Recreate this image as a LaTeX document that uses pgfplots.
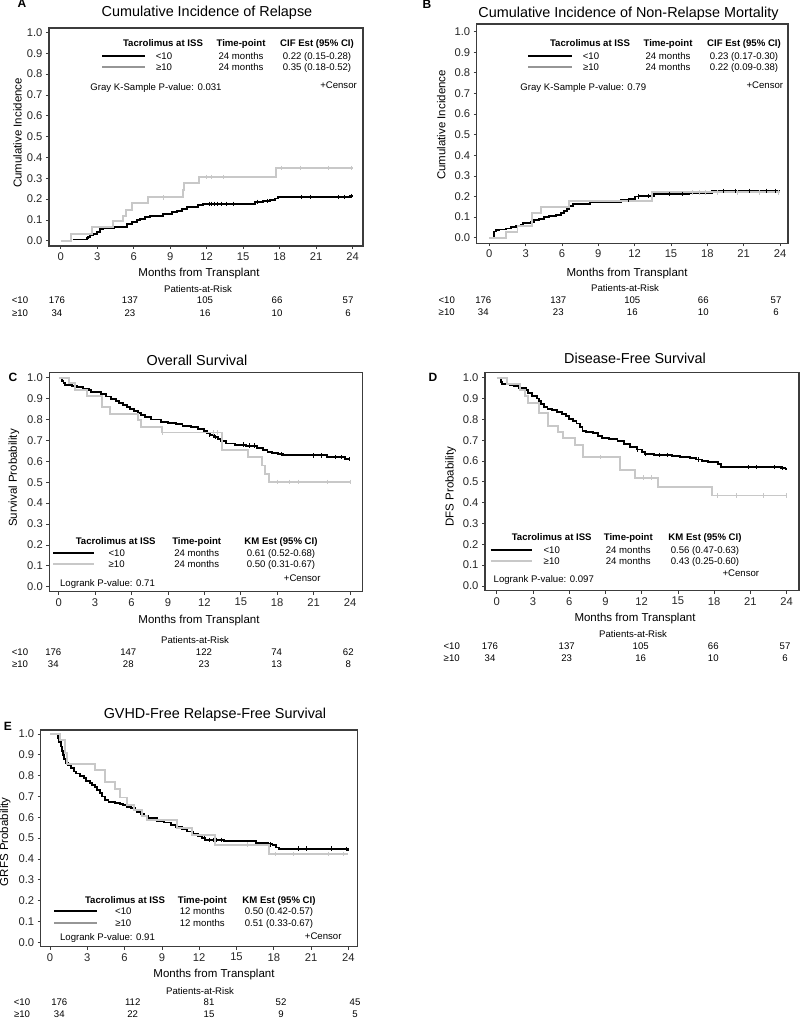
\documentclass[border=0pt]{standalone}
\usepackage{pgfplots}
\pgfplotsset{compat=1.18}
\usepackage{fontspec}
\setmainfont{Liberation Sans}
\definecolor{lgray}{RGB}{200,200,200}
\definecolor{mgray}{RGB}{150,150,150}
\definecolor{frame}{RGB}{60,60,60}
\newcommand\fT{\fontsize{14.4}{16}\selectfont}
\newcommand\fM{\fontsize{11.5}{13}\selectfont}
\newcommand\fS{\fontsize{9.6}{11}\selectfont}
\newcommand\fB{\bfseries\fontsize{9.6}{11}\selectfont}
\newcommand\fP{\bfseries\fontsize{12}{14}\selectfont}
\pgfplotsset{
  km/.style={
    scale only axis, anchor=south west,
    axis line style={frame, line width=1.1pt},
    xtick={0,3,6,9,12,15,18,21,24},
    ytick={0,0.1,0.2,0.3,0.4,0.5,0.6,0.7,0.8,0.9,1},
    xtick pos=left, ytick pos=left,
    tick align=outside,
    major tick length=3pt,
    every tick/.style={frame, line width=0.7pt},
    tick label style={font=\fontsize{11.2}{12}\selectfont, text=black!85},
    /pgf/number format/assume math mode=true,
    yticklabel style={/pgf/number format/.cd, fixed, fixed zerofill, precision=1},
  },
  kmb/.style={const plot, black, line width=1.9pt},
  kmg/.style={const plot, lgray, line width=1.9pt},
  cb/.style={only marks, mark=|, black, mark size=2.2pt, mark options={line width=0.7pt}},
  cg/.style={only marks, mark=|, lgray, mark size=2.2pt, mark options={line width=0.7pt}},
}
\tikzset{t/.style={inner sep=0pt, text height=0.72em, text depth=0pt}}
\newcommand\T[4][]{\node[t,#1] at ({#2},{1018-#3}) {#4};}
\newcommand\LL[4]{\draw[#4, line width=1.9pt] ({#1},{1018-#3}) -- ({#2},{1018-#3});}
\begin{document}
\begin{tikzpicture}[x=1pt,y=1pt]
% ================= A =================
\begin{axis}[km, at={(49pt,772pt)}, width=314pt, height=218pt,
  xmin=-0.96, xmax=24.85, ymin=-0.025, ymax=1.021]
\addplot[kmb] coordinates {(0.98,0.006) (2.13,0.014) (2.27,0.02) (2.41,0.026) (2.68,0.032) (2.96,0.042) (3.23,0.055) (3.5,0.06) (4.38,0.068) (5.48,0.08) (5.83,0.09) (6.24,0.1) (6.52,0.105) (6.93,0.115) (7.34,0.12) (8.43,0.127) (9.12,0.137) (9.53,0.143) (9.94,0.154) (10.35,0.162) (11.31,0.17) (11.72,0.177) (15.97,0.187) (16.65,0.19) (17.2,0.195) (17.61,0.203) (17.89,0.21) (23.77,0.215) (24.05,0.215)};
\addplot[cb] coordinates {(12.2,0.177) (12.4,0.177) (12.6,0.177) (12.9,0.177) (13.2,0.177) (13.6,0.177) (14.2,0.177) (16.2,0.187) (17.0,0.19) (19.8,0.21) (20.5,0.21) (22.8,0.21) (23.3,0.21) (23.9,0.215)};
\addplot[kmg] coordinates {(0,0) (0.82,0.031) (2.6,0.064) (4.27,0.096) (5.1,0.12) (5.37,0.147) (5.83,0.18) (7.2,0.208) (10.03,0.243) (10.14,0.278) (11.4,0.307) (17.7,0.35) (24,0.35)};
\addplot[cg] coordinates {(8.45,0.208) (12.0,0.307) (12.4,0.307) (13.4,0.307) (18.1,0.35) (19.7,0.35) (22.0,0.35) (23.9,0.35)};
\end{axis}
% ================= B =================
\begin{axis}[km, at={(476.7pt,774.7pt)}, width=311.3pt, height=219.3pt,
  xmin=-1.04, xmax=24.66, ymin=-0.027, ymax=1.037]
\addplot[kmb] coordinates {(0.33,0.008) (0.4,0.03) (0.55,0.037) (0.8,0.04) (1.37,0.045) (1.8,0.05) (2.2,0.055) (2.6,0.06) (2.75,0.07) (3.4,0.075) (3.7,0.085) (4.1,0.09) (4.5,0.1) (4.9,0.105) (5.5,0.11) (5.9,0.12) (6.2,0.13) (6.45,0.14) (6.6,0.155) (6.9,0.162) (8.3,0.173) (10.9,0.183) (11.6,0.19) (12.0,0.2) (12.4,0.203) (13.6,0.21) (14.5,0.213) (16.5,0.218) (18.4,0.228) (24,0.228)};
\addplot[cb] coordinates {(11.5,0.183) (12.3,0.2) (13.1,0.203) (14.9,0.213) (15.9,0.213) (19.3,0.228) (20.3,0.228) (21.5,0.228) (22.9,0.228) (23.6,0.228)};
\addplot[kmg] coordinates {(0,0) (1.37,0.029) (2.33,0.057) (3.5,0.118) (4.25,0.15) (6.58,0.178) (13.44,0.22) (24,0.22)};
\addplot[cg] coordinates {(16.8,0.22) (17.3,0.22) (17.8,0.22) (18.8,0.22) (20.5,0.22) (22.3,0.22) (23.9,0.22)};
\end{axis}
% ================= C =================
\begin{axis}[km, at={(49.3pt,426.3pt)}, width=313.4pt, height=219pt,
  xmin=-0.77, xmax=25.04, ymin=-0.024, ymax=1.024]
\addplot[kmb] coordinates {(0.25,1.0) (0.3,0.985) (0.4,0.975) (0.55,0.965) (1.1,0.96) (1.5,0.955) (2.0,0.948) (2.5,0.94) (2.7,0.93) (3.5,0.92) (3.9,0.91) (4.3,0.9) (4.7,0.89) (5.0,0.88) (5.3,0.87) (5.6,0.86) (5.9,0.85) (6.2,0.84) (6.5,0.83) (6.8,0.82) (7.1,0.81) (7.6,0.80) (8.4,0.79) (9.0,0.785) (9.7,0.78) (10.2,0.77) (10.9,0.765) (11.5,0.755) (12.0,0.745) (12.2,0.735) (12.5,0.725) (12.8,0.715) (13.1,0.705) (13.4,0.695) (13.8,0.685) (14.5,0.68) (15.4,0.675) (16.3,0.665) (16.8,0.655) (17.2,0.645) (17.6,0.64) (18.1,0.635) (18.5,0.628) (22.1,0.62) (23.6,0.61) (24,0.61)};
\addplot[cb] coordinates {(12.4,0.725) (12.9,0.715) (15.2,0.68) (15.7,0.675) (16.1,0.675) (18.3,0.635) (21.0,0.628) (21.6,0.628) (22.8,0.62) (23.3,0.62) (23.9,0.61)};
\addplot[kmg] coordinates {(0,1) (0.85,0.973) (1.34,0.941) (2.3,0.912) (3.54,0.858) (4.23,0.828) (6.56,0.797) (6.75,0.766) (8.48,0.738) (13.45,0.654) (15.62,0.619) (16.72,0.58) (17.0,0.54) (17.3,0.502) (24,0.502)};
\addplot[cg] coordinates {(8.5,0.738) (12.7,0.738) (13.1,0.738) (18.0,0.502) (19.0,0.502) (19.7,0.502) (22.1,0.502) (24,0.502)};
\end{axis}
% ================= D =================
\begin{axis}[km, at={(485pt,427.3pt)}, width=314pt, height=218pt,
  xmin=-0.97, xmax=25.02, ymin=-0.023, ymax=1.024]
\addplot[kmb] coordinates {(0.27,1.0) (0.35,0.98) (0.45,0.97) (1.1,0.965) (1.4,0.96) (1.8,0.95) (2.4,0.94) (2.6,0.925) (2.9,0.91) (3.3,0.9) (3.5,0.89) (3.7,0.875) (3.9,0.86) (4.2,0.85) (4.6,0.845) (5.0,0.835) (5.4,0.825) (5.7,0.815) (6.0,0.8) (6.3,0.79) (6.6,0.78) (6.9,0.765) (7.1,0.745) (7.4,0.74) (8.0,0.735) (8.4,0.72) (8.7,0.71) (9.3,0.705) (10.0,0.695) (10.5,0.68) (11.0,0.665) (11.6,0.655) (12.0,0.645) (12.3,0.635) (13.0,0.628) (14.5,0.625) (15.2,0.62) (16.0,0.615) (16.5,0.607) (17.0,0.6) (17.5,0.595) (18.3,0.585) (18.6,0.57) (23.5,0.565) (23.9,0.56) (24,0.56)};
\addplot[cb] coordinates {(11.6,0.655) (12.3,0.635) (13.5,0.628) (14.1,0.628) (16.7,0.607) (20.8,0.57) (21.5,0.57) (23.0,0.57) (23.6,0.565)};
\addplot[kmg] coordinates {(0,1) (0.83,0.97) (1.9,0.94) (2.34,0.91) (2.62,0.88) (3.5,0.83) (4.27,0.77) (5.1,0.74) (5.51,0.71) (6.48,0.677) (7.17,0.618) (10.2,0.557) (11.45,0.52) (13.38,0.477) (17.79,0.434) (24,0.434)};
\addplot[cg] coordinates {(8.55,0.618) (12.1,0.52) (12.8,0.52) (18.3,0.434) (19.85,0.434) (22.1,0.434) (24,0.434)};
\end{axis}
% ================= E =================
\begin{axis}[km, at={(40.7pt,71.3pt)}, width=317pt, height=216.7pt,
  xmin=-0.75, xmax=24.75, ymin=-0.021, ymax=1.019]
\addplot[kmb] coordinates {(0.56,1.0) (0.65,0.98) (0.75,0.96) (0.85,0.94) (0.95,0.92) (1.05,0.9) (1.15,0.88) (1.25,0.86) (1.45,0.85) (1.7,0.835) (1.9,0.82) (2.1,0.81) (2.4,0.8) (2.7,0.79) (2.9,0.775) (3.2,0.765) (3.4,0.755) (3.6,0.745) (3.8,0.73) (4.0,0.715) (4.2,0.7) (4.4,0.685) (4.7,0.675) (5.2,0.67) (5.6,0.665) (5.9,0.658) (6.2,0.65) (6.5,0.643) (6.8,0.635) (7.0,0.625) (7.3,0.615) (7.6,0.605) (7.9,0.595) (8.6,0.58) (9.2,0.575) (9.7,0.565) (10.1,0.555) (10.6,0.545) (11.0,0.532) (11.5,0.52) (11.9,0.51) (12.2,0.5) (12.5,0.492) (14.0,0.488) (15.5,0.485) (16.6,0.478) (17.5,0.47) (17.9,0.465) (18.2,0.455) (18.4,0.45) (23.7,0.447) (24,0.44)};
\addplot[cb] coordinates {(12.4,0.5) (12.8,0.492) (13.1,0.492) (13.4,0.492) (13.8,0.492) (17.7,0.47) (20.0,0.45) (20.6,0.45) (22.6,0.45) (23.8,0.447)};
\addplot[kmg] coordinates {(0,1) (0.83,0.97) (1.18,0.91) (1.37,0.855) (3.65,0.825) (4.45,0.77) (5.26,0.735) (5.66,0.695) (6.19,0.66) (6.73,0.637) (7.4,0.605) (7.8,0.589) (10.22,0.549) (11.42,0.517) (13.3,0.469) (17.59,0.424) (24,0.424)};
\addplot[cg] coordinates {(15.9,0.469) (18.1,0.424) (19.6,0.424) (22.4,0.424) (23.6,0.424)};
\end{axis}
% ================= Texts A =================
\T[font=\fP]{22}{4}{A}
\T[font=\fT]{207}{13}{Cumulative Incidence of Relapse}
\T[font=\fM,rotate=90]{18}{133}{Cumulative Incidence}
\T[font=\fM]{199}{273}{Months from Transplant}
\T[font=\fS]{198}{289}{Patients-at-Risk}
\T[font=\fB]{163}{43}{Tacrolimus at ISS}
\T[font=\fB]{241}{43}{Time-point}
\T[font=\fB]{317}{43}{CIF Est (95\% CI)}
\LL{102}{145}{56}{black}
\LL{102}{145}{67}{mgray}
\T[font=\fS]{164}{56}{<10}
\T[font=\fS]{164}{67}{≥10}
\T[font=\fS]{241}{56}{24 months}
\T[font=\fS]{241}{67}{24 months}
\T[font=\fS]{317}{56}{0.22 (0.15-0.28)}
\T[font=\fS]{317}{67}{0.35 (0.18-0.52)}
\T[font=\fS]{156}{87}{Gray K-Sample P-value: 0.031}
\T[font=\fS,anchor=east]{357}{85}{+Censor}
\T[font=\fS]{20}{300}{<10}
\T[font=\fS]{20}{313}{≥10}
\T[font=\fS]{57}{300}{176}\T[font=\fS]{130}{300}{137}\T[font=\fS]{205}{300}{105}\T[font=\fS]{277}{300}{66}\T[font=\fS]{348}{300}{57}
\T[font=\fS]{57}{313}{34}\T[font=\fS]{130}{313}{23}\T[font=\fS]{205}{313}{16}\T[font=\fS]{277}{313}{10}\T[font=\fS]{348}{313}{6}
% ================= Texts B =================
\T[font=\fP]{427}{5}{B}
\T[font=\fT]{628.5}{14}{Cumulative Incidence of Non-Relapse Mortality}
\T[font=\fM,rotate=90]{441.7}{125}{Cumulative Incidence}
\T[font=\fM]{627}{273}{Months from Transplant}
\T[font=\fS]{625}{288}{Patients-at-Risk}
\T[font=\fB]{590}{43}{Tacrolimus at ISS}
\T[font=\fB]{668}{43}{Time-point}
\T[font=\fB]{744}{43}{CIF Est (95\% CI)}
\LL{528}{572}{56}{black}
\LL{528}{572}{67}{mgray}
\T[font=\fS]{591}{56}{<10}
\T[font=\fS]{591}{67}{≥10}
\T[font=\fS]{668}{56}{24 months}
\T[font=\fS]{668}{67}{24 months}
\T[font=\fS]{744}{56}{0.23 (0.17-0.30)}
\T[font=\fS]{744}{67}{0.22 (0.09-0.38)}
\T[font=\fS]{583.3}{87}{Gray K-Sample P-value: 0.79}
\T[font=\fS,anchor=east]{783.3}{85}{+Censor}
\T[font=\fS]{446.7}{300}{<10}
\T[font=\fS]{446.7}{312}{≥10}
\T[font=\fS]{483.3}{300}{176}\T[font=\fS]{558.3}{300}{137}\T[font=\fS]{632.3}{300}{105}\T[font=\fS]{703.3}{300}{66}\T[font=\fS]{776}{300}{57}
\T[font=\fS]{483.3}{312}{34}\T[font=\fS]{558.3}{312}{23}\T[font=\fS]{632.3}{312}{16}\T[font=\fS]{703.3}{312}{10}\T[font=\fS]{776}{312}{6}
% ================= Texts C =================
\T[font=\fP]{13}{377.7}{C}
\T[font=\fT]{197}{361.7}{Overall Survival}
\T[font=\fM,rotate=90]{13.3}{478}{Survival Probability}
\T[font=\fM]{199}{620}{Months from Transplant}
\T[font=\fS]{195}{640}{Patients-at-Risk}
\T[font=\fB]{115.7}{540.7}{Tacrolimus at ISS}
\T[font=\fB]{196.7}{540.7}{Time-point}
\T[font=\fB]{281}{540.7}{KM Est (95\% CI)}
\LL{53.3}{94.3}{552.7}{black}
\LL{53.3}{94.3}{564.3}{lgray}
\T[font=\fS]{116.7}{552.7}{<10}
\T[font=\fS]{116.7}{564.3}{≥10}
\T[font=\fS]{196.7}{552.7}{24 months}
\T[font=\fS]{196.7}{564.3}{24 months}
\T[font=\fS]{281}{552.7}{0.61 (0.52-0.68)}
\T[font=\fS]{281}{564.3}{0.50 (0.31-0.67)}
\T[font=\fS]{107.5}{583.3}{Logrank P-value: 0.71}
\T[font=\fS,anchor=east]{320.7}{577.7}{+Censor}
\T[font=\fS]{20}{651.7}{<10}
\T[font=\fS]{20}{663.7}{≥10}
\T[font=\fS]{53.3}{651.7}{176}\T[font=\fS]{128.3}{651.7}{147}\T[font=\fS]{204}{651.7}{122}\T[font=\fS]{276.7}{651.7}{74}\T[font=\fS]{348.3}{651.7}{62}
\T[font=\fS]{53.3}{663.7}{34}\T[font=\fS]{128.3}{663.7}{28}\T[font=\fS]{204}{663.7}{23}\T[font=\fS]{276.7}{663.7}{13}\T[font=\fS]{348.3}{663.7}{8}
% ================= Texts D =================
\T[font=\fP]{433}{377.7}{D}
\T[font=\fT]{635}{360}{Disease-Free Survival}
\T[font=\fM,rotate=90]{450}{486.7}{DFS Probability}
\T[font=\fM]{635}{618.3}{Months from Transplant}
\T[font=\fS]{633}{634}{Patients-at-Risk}
\T[font=\fB]{551.7}{537.3}{Tacrolimus at ISS}
\T[font=\fB]{628.3}{537.3}{Time-point}
\T[font=\fB]{705}{537.3}{KM Est (95\% CI)}
\LL{490.7}{532.3}{550}{black}
\LL{490.7}{532.3}{560.7}{lgray}
\T[font=\fS]{551.7}{550}{<10}
\T[font=\fS]{551.7}{560.7}{≥10}
\T[font=\fS]{628.3}{550}{24 months}
\T[font=\fS]{628.3}{560.7}{24 months}
\T[font=\fS]{705}{550}{0.56 (0.47-0.63)}
\T[font=\fS]{705}{560.7}{0.43 (0.25-0.60)}
\T[font=\fS]{543.8}{579.3}{Logrank P-value: 0.097}
\T[font=\fS,anchor=east]{759.3}{572.7}{+Censor}
\T[font=\fS]{451.7}{645.7}{<10}
\T[font=\fS]{451.7}{657.7}{≥10}
\T[font=\fS]{490}{645.7}{176}\T[font=\fS]{566.7}{645.7}{137}\T[font=\fS]{640.7}{645.7}{105}\T[font=\fS]{713.3}{645.7}{66}\T[font=\fS]{785}{645.7}{57}
\T[font=\fS]{490}{657.7}{34}\T[font=\fS]{566.7}{657.7}{23}\T[font=\fS]{640.7}{657.7}{16}\T[font=\fS]{713.3}{657.7}{10}\T[font=\fS]{785}{657.7}{6}
% ================= Texts E =================
\T[font=\fP]{8}{726.7}{E}
\T[font=\fT]{215}{715}{GVHD-Free Relapse-Free Survival}
\T[font=\fM,rotate=90]{4.5}{841.7}{GRFS Probability}
\T[font=\fM]{214}{974}{Months from Transplant}
\T[font=\fS]{200}{990.7}{Patients-at-Risk}
\T[font=\fB]{125}{900}{Tacrolimus at ISS}
\T[font=\fB]{202.3}{900}{Time-point}
\T[font=\fB]{279}{900}{KM Est (95\% CI)}
\LL{54}{96.7}{911}{black}
\LL{54}{96.7}{923.3}{mgray}
\T[font=\fS]{123.3}{911}{<10}
\T[font=\fS]{123.3}{923.3}{≥10}
\T[font=\fS]{202.3}{911}{12 months}
\T[font=\fS]{202.3}{923.3}{12 months}
\T[font=\fS]{279}{911}{0.50 (0.42-0.57)}
\T[font=\fS]{279}{923.3}{0.51 (0.33-0.67)}
\T[font=\fS]{107.5}{937.3}{Logrank P-value: 0.91}
\T[font=\fS,anchor=east]{341.7}{936}{+Censor}
\T[font=\fS]{22}{1002.3}{<10}
\T[font=\fS]{22}{1014}{≥10}
\T[font=\fS]{59.3}{1002.3}{176}\T[font=\fS]{132.7}{1002.3}{112}\T[font=\fS]{209}{1002.3}{81}\T[font=\fS]{281}{1002.3}{52}\T[font=\fS]{355}{1002.3}{45}
\T[font=\fS]{59.3}{1014}{34}\T[font=\fS]{132.7}{1014}{22}\T[font=\fS]{209}{1014}{15}\T[font=\fS]{281}{1014}{9}\T[font=\fS]{355}{1014}{5}
\pgfresetboundingbox
\path (0,0) rectangle (800,1018);
\end{tikzpicture}
\end{document}
